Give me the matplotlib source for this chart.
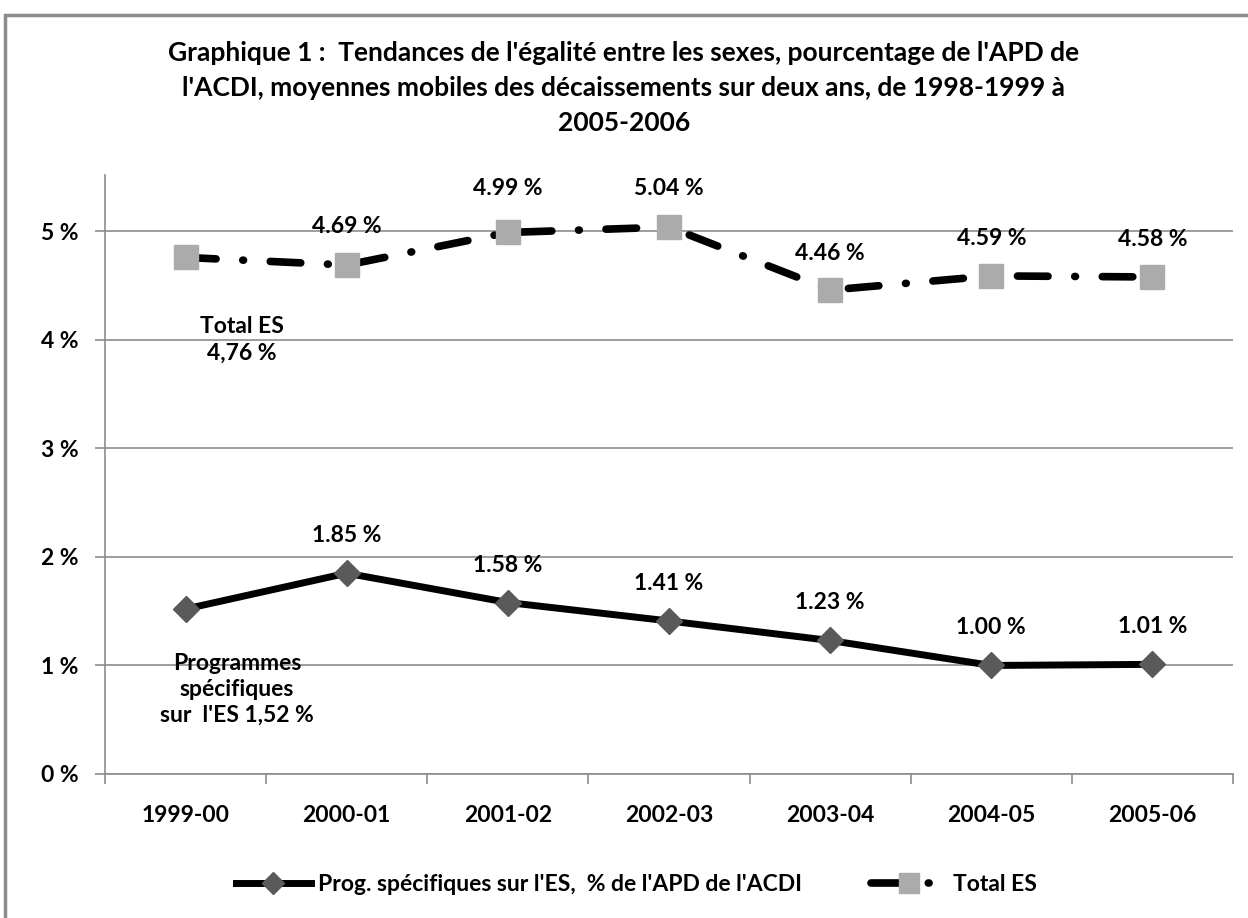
import numpy as np
import matplotlib.pyplot as plt
from matplotlib.patches import Rectangle
from matplotlib.lines import Line2D

plt.rcParams['font.family'] = ['Lato', 'DejaVu Sans']

periods = ["1999-00", "2000-01", "2001-02", "2002-03", "2003-04", "2004-05", "2005-06"]
prog_es = [1.52, 1.85, 1.58, 1.41, 1.23, 1.00, 1.01]
total_es = [4.76, 4.69, 4.99, 5.04, 4.46, 4.59, 4.58]
prog_labels = [None, "1.85 %", "1.58 %", "1.41 %", "1.23 %", "1.00 %", "1.01 %"]
total_labels = [None, "4.69 %", "4.99 %", "5.04 %", "4.46 %", "4.59 %", "4.58 %"]
total_label_offsets = [0, 28, 32, 28, 26, 27, 27]

FS = 16.5

fig = plt.figure(figsize=(12.48, 9.18), dpi=100)
ax = fig.add_axes([0.0841, 0.1569, 0.9039, 0.6525])

# figure frame
fig.patches.append(Rectangle((0.004, -0.01), 1.2, 0.994, transform=fig.transFigure,
                             fill=False, edgecolor="#8c8c8c", linewidth=2.5))

x = np.arange(len(periods))

ax.plot(x, prog_es, color="black", linewidth=5, solid_capstyle="round",
        marker="D", markersize=13, markerfacecolor="#5a5a5a", markeredgecolor="#5a5a5a",
        zorder=3)
ax.plot(x, total_es, color="black", linewidth=5.5, dashes=(4, 3.5, 0.1, 3.5),
        dash_capstyle="round", marker="s", markersize=17,
        markerfacecolor="#ababab", markeredgecolor="#ababab", zorder=3)

for xi, yi, lab in zip(x, prog_es, prog_labels):
    if lab:
        ax.annotate(lab, (xi, yi), xytext=(0, 27), textcoords="offset points",
                    ha="center", va="center", fontsize=FS, fontweight="bold")
for xi, yi, lab, off in zip(x, total_es, total_labels, total_label_offsets):
    if lab:
        ax.annotate(lab, (xi, yi), xytext=(0, off), textcoords="offset points",
                    ha="center", va="center", fontsize=FS, fontweight="bold")

ax.text(0.35, 4.0, "Total ES\n4,76 %", ha="center", va="center", fontsize=FS,
        fontweight="bold", linespacing=1.35)
ax.text(0.32, 0.78, "Programmes\nspécifiques\nsur  l'ES 1,52 %", ha="center", va="center",
        fontsize=FS, fontweight="bold", linespacing=1.3)

ax.set_xlim(-0.5, len(periods) - 0.5)
ax.set_ylim(0, 5.52)
ax.set_yticks(range(0, 6))
ax.set_yticklabels([f"{v} %" for v in range(0, 6)], fontsize=FS, fontweight="bold")
ax.set_xticks(x)
ax.set_xticklabels(periods, fontsize=FS, fontweight="bold")
ax.set_xticks(np.arange(-0.5, len(periods)), minor=True)
ax.tick_params(axis="x", which="major", length=0, pad=22)
ax.tick_params(axis="x", which="minor", length=7, color="#8c8c8c", width=1.2)
ax.tick_params(axis="y", length=7, color="#8c8c8c", width=1.2, pad=12)
ax.grid(axis="y", color="#8c8c8c", linewidth=1.2)
ax.set_axisbelow(True)
for s in ["top", "right"]:
    ax.spines[s].set_visible(False)
for s in ["left", "bottom"]:
    ax.spines[s].set_color("#8c8c8c")
    ax.spines[s].set_linewidth(1.2)

fig.suptitle("Graphique 1 :  Tendances de l'égalité entre les sexes, pourcentage de l'APD de\n"
             "l'ACDI, moyennes mobiles des décaissements sur deux ans, de 1998-1999 à\n2005-2006",
             y=0.955, fontsize=19, fontweight="bold", linespacing=1.55)

handles = [
    Line2D([], [], color="black", linewidth=5, marker="D", markersize=11,
           markerfacecolor="#5a5a5a", markeredgecolor="#5a5a5a"),
    Line2D([], [], color="black", linewidth=5.5, dashes=(4, 3.5, 0.1, 3.5), dash_capstyle="round",
           marker="s", markersize=14, markerfacecolor="#ababab", markeredgecolor="#ababab"),
]
fig.legend(handles, ["Prog. spécifiques sur l'ES,  % de l'APD de l'ACDI", "Total ES"],
           loc="center", bbox_to_anchor=(0.51, 0.036), ncol=2, frameon=False,
           prop={"size": FS, "weight": "bold"}, handlelength=3.3, columnspacing=3,
           handletextpad=0.3)

fig.savefig("out.png", dpi=100)
